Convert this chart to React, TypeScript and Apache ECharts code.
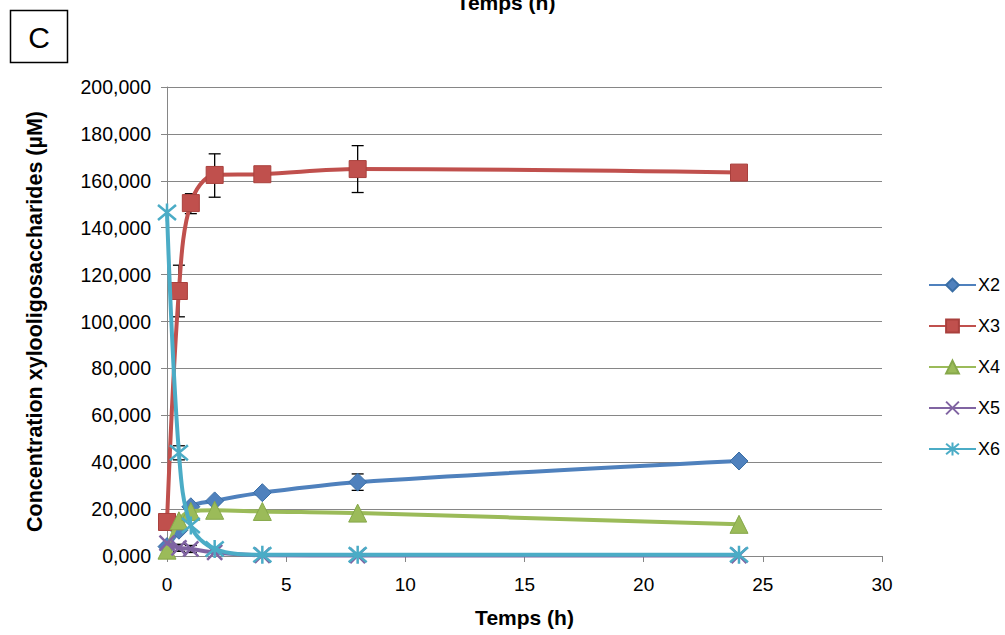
import React, { useEffect, useRef } from "react";
import * as echarts from "echarts";

const times = [0, 0.5, 1, 2, 4, 8, 24];
const seriesNames = ["X2", "X3", "X4", "X5", "X6"];
const x2 = [4, 11, 21, 23.5, 27, 31.5, 40.5];
const x3 = [14.5, 113, 150.5, 162.5, 162.8, 165, 163.5];
const x4 = [2.5, 15, 19, 19.5, 19, 18.3, 13.5];
const x5 = [5.5, 3.5, 3, 1.5, 0.3, 0.2, 0.2];
const x6 = [146.5, 44, 13, 3, 0.5, 0.5, 0.5];
// error bars: [time, low, high]
const x3Err = [
  [0.5, 102, 124],
  [1, 146, 154.5],
  [2, 153, 171.5],
  [4, 161.5, 164],
  [8, 155, 175],
];
const x2Err = [[8, 28, 35]];
const x5Err = [
  [0.5, 2, 5],
  [1, 1.5, 4.5],
];
const x6Err = [[0.5, 41, 47]];
const xTicks = { min: 0, max: 30, interval: 5 };
const yTicks = { min: 0, max: 200, interval: 20 };

const colors = ["#4F81BD", "#C0504D", "#9BBB59", "#8064A2", "#4BACC6"];
const borders = ["#3A6EA5", "#A9403D", "#86A84A", "#6E5490", "#3A98B2"];
const symbols = [
  "diamond",
  "rect",
  "triangle",
  "path://M0,0L20,20M20,0L0,20",
  "path://M0,0L20,20M20,0L0,20M10,-2L10,22",
];
const symbolSizes = [18, 17, 18, 15, 18];
const FONT = "'Liberation Sans', Arial, sans-serif";

export default function App() {
  const ref = useRef<HTMLDivElement>(null);
  useEffect(() => {
    if (!ref.current) return;
    const chart = echarts.init(ref.current, undefined, { renderer: "svg" });
    const datas = [x2, x3, x4, x5, x6];
    const lineSeries = datas.map((d, i) => {
      const isStroke = i >= 3;
      return {
        name: seriesNames[i],
        type: "line",
        smooth: 0.35,
        data: d.map((v, j) => [times[j], v]),
        symbol: symbols[i],
        symbolSize: symbolSizes[i],
        showAllSymbol: true,
        lineStyle: { color: colors[i], width: 4 },
        itemStyle: isStroke
          ? { color: "none", borderColor: colors[i], borderWidth: 2.5 }
          : { color: colors[i], borderColor: borders[i], borderWidth: 1 },
        z: 2 + i,
      };
    });
    const errSeries = [x2Err, x3Err, x5Err, x6Err].map((e, k) => ({
      type: "custom",
      name: "err" + k,
      z: 1,
      renderItem: (params: any, api: any) => {
        const x = api.value(0);
        const lo = api.coord([x, api.value(1)]);
        const hi = api.coord([x, api.value(2)]);
        const w = 6;
        const style = { stroke: "#000", lineWidth: 1.3 };
        return {
          type: "group",
          children: [
            { type: "line", shape: { x1: lo[0], y1: lo[1], x2: hi[0], y2: hi[1] }, style },
            { type: "line", shape: { x1: lo[0] - w, y1: lo[1], x2: lo[0] + w, y2: lo[1] }, style },
            { type: "line", shape: { x1: hi[0] - w, y1: hi[1], x2: hi[0] + w, y2: hi[1] }, style },
          ],
        };
      },
      data: e,
      encode: { x: 0, y: [1, 2] },
    }));
    chart.setOption({
      animation: false,
      textStyle: { fontFamily: FONT },
      grid: { left: 167, right: 123, top: 87, height: 556 - 87 },
      legend: {
        data: seriesNames,
        orient: "vertical",
        left: 923,
        top: 271,
        itemWidth: 47,
        itemHeight: 16,
        itemGap: 23,
        textStyle: { fontSize: 18, color: "#000", fontFamily: FONT, padding: [0, 0, 0, -3] },
      },
      xAxis: {
        type: "value",
        min: xTicks.min,
        max: xTicks.max,
        interval: xTicks.interval,
        name: "Temps (h)",
        nameLocation: "middle",
        nameGap: 51,
        nameTextStyle: { fontSize: 21, fontWeight: "bold", color: "#000", fontFamily: FONT },
        axisLine: { lineStyle: { color: "#868686", width: 1 } },
        axisTick: { show: true, length: 6, lineStyle: { color: "#868686" } },
        axisLabel: { fontSize: 19, color: "#000", margin: 19, fontFamily: FONT },
        splitLine: { show: false },
      },
      yAxis: {
        type: "value",
        min: yTicks.min,
        max: yTicks.max,
        interval: yTicks.interval,
        name: "Concentration xylooligosaccharides (µM)",
        nameLocation: "middle",
        nameGap: 121,
        nameRotate: 90,
        nameTextStyle: { fontSize: 21.5, fontWeight: "bold", color: "#000", fontFamily: FONT },
        axisLine: { show: true, lineStyle: { color: "#868686", width: 1 } },
        axisTick: { show: true, length: 6, lineStyle: { color: "#868686" } },
        axisLabel: {
          fontSize: 19.5,
          color: "#000",
          margin: 16,
          fontFamily: FONT,
          formatter: (v: number) => v.toFixed(3).replace(".", ","),
        },
        splitLine: { show: true, lineStyle: { color: "#868686", width: 1 } },
      },
      graphic: [
        {
          type: "rect",
          shape: { x: 10.5, y: 10.5, width: 57, height: 52 },
          style: { fill: "#fff", stroke: "#000", lineWidth: 1.5 },
        },
        {
          type: "text",
          x: 39,
          y: 37,
          style: { text: "C", fontSize: 30, fill: "#000", fontFamily: FONT, align: "center", verticalAlign: "middle" },
        },
        {
          type: "text",
          x: 506,
          y: 2,
          style: {
            text: "Temps (h)",
            fontSize: 21,
            fontWeight: "bold",
            fill: "#000",
            fontFamily: FONT,
            align: "center",
            verticalAlign: "middle",
          },
        },
      ],
      series: [...errSeries, ...lineSeries],
    });
    return () => chart.dispose();
  }, []);
  return (
    <div
      ref={ref}
      style={{ position: "fixed", left: 0, top: 0, width: 1005, height: 635, background: "#fff" }}
    />
  );
}
